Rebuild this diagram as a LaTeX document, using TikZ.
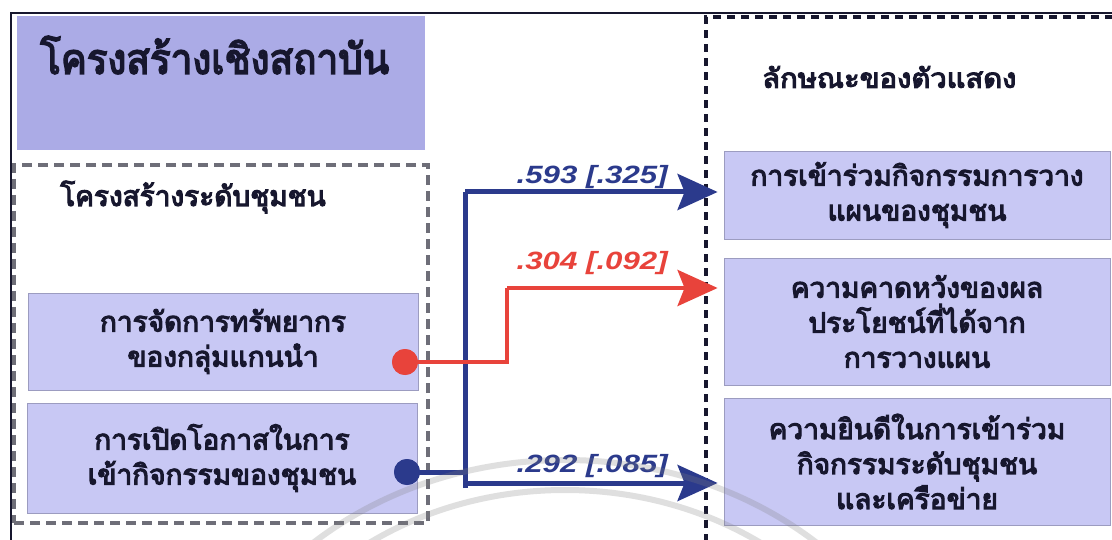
\documentclass[tikz,border=0pt]{standalone}
\usepackage{fontspec}
\usepackage{graphicx}
\newfontfamily\thai[Script=Thai, AutoFakeBold=4]{Loma}
\newfontfamily\numf{Liberation Sans}
\usetikzlibrary{arrows.meta,calc}
\definecolor{titlefill}{HTML}{ABABE6}
\definecolor{boxfill}{HTML}{C8C8F4}
\definecolor{boxline}{HTML}{9C9CC0}
\definecolor{ink}{HTML}{17172E}
\definecolor{navy}{HTML}{2B3A8C}
\definecolor{redc}{HTML}{E8433B}
\definecolor{dashgray}{HTML}{6E6E78}
\newcommand{\hs}[2]{\scalebox{#1}[1]{#2}}
\tikzset{
  pbox/.style={draw=boxline, line width=0.8pt, fill=boxfill, inner sep=0pt, text=ink,
    align=center, font=\thai\bfseries\fontsize{28}{35}\selectfont},
  lbl/.style={text=ink, inner sep=0pt},
  grayframe/.style={draw=dashgray, line width=4pt, dash pattern=on 10pt off 6pt, inner sep=0pt},
  blackframe/.style={draw=ink, line width=4pt, dash pattern=on 8pt off 6pt},
  blueln/.style={draw=navy, line width=5pt},
  redln/.style={draw=redc, line width=4.5pt},
  bluearr/.style={blueln, -{Stealth[length=40pt,width=36pt,inset=7pt]}},
  redarr/.style={redln, -{Stealth[length=40pt,width=36pt,inset=7pt]}},
  coef/.style={inner sep=0pt, anchor=east, font=\numf\bfseries\itshape\fontsize{25}{28}\selectfont},
  dotst/.style={circle, inner sep=0pt, minimum size=26pt},
  wm/.style={draw=gray, line width=6pt, opacity=0.25}
}
\begin{document}
\begin{tikzpicture}[x=1pt,y=-1pt]
\useasboundingbox (0,0) rectangle (1112,540);
\clip (0,0) rectangle (1112,540);
\fill[white] (0,0) rectangle (1112,540);
% outer solid frame
\draw[ink, line width=1.8pt] (11,560) -- (11,13) -- (1130,13);
% title box
\node[fill=titlefill, inner sep=0pt, minimum width=408pt, minimum height=134pt] (inst) at (221,83) {};
\node[lbl, anchor=west, font=\thai\bfseries\fontsize{42}{50}\selectfont] (instlbl) at (40,55) {\hs{0.92}{โครงสร้างเชิงสถาบัน}};
% community frame
\node[grayframe, minimum width=414pt, minimum height=358pt] (comm) at (221,344) {};
\node[lbl, anchor=west, font=\thai\bfseries\fontsize{28}{32}\selectfont] (commlbl) at (60,197) {\hs{1.0}{โครงสร้างระดับชุมชน}};
% actor frame
\draw[blackframe] (706,570) -- (706,17) -- (1130,17);
\node[lbl, anchor=west, font=\thai\bfseries\fontsize{27}{30}\selectfont] (actlbl) at (762,77) {\hs{1.08}{ลักษณะของตัวแสดง}};
% left boxes
\node[pbox, minimum width=390pt, minimum height=97pt] (lb1) at (223,341.5) {\hs{1.0}{การจัดการทรัพยากร}\\\hs{1.0}{ของกลุ่มแกนนำ}};
\node[pbox, minimum width=390pt, minimum height=110pt] (lb2) at (222,458) {\hs{1.0}{การเปิดโอกาสในการ}\\\hs{1.0}{เข้ากิจกรรมของชุมชน}};
% right boxes
\node[pbox, minimum width=386pt, minimum height=88pt] (rb1) at (917,195) {\hs{1.0}{การเข้าร่วมกิจกรรมการวาง}\\\hs{1.0}{แผนของชุมชน}};
\node[pbox, minimum width=386pt, minimum height=127pt] (rb2) at (917,321.5) {\hs{1.0}{ความคาดหวังของผล}\\\hs{1.0}{ประโยชน์ที่ได้จาก}\\\hs{1.0}{การวางแผน}};
\node[pbox, minimum width=386pt, minimum height=127pt] (rb3) at (917,461.5) {\hs{1.0}{ความยินดีในการเข้าร่วม}\\\hs{1.0}{กิจกรรมระดับชุมชน}\\\hs{1.0}{และเครือข่าย}};
% dots and junctions
\node[dotst, fill=redc] (rd) at (405,362) {};
\node[dotst, fill=navy] (bd) at (407,472) {};
\coordinate (btop) at (465,192);
\coordinate (bbot) at (465,488);
\coordinate (bjoin) at (465,472);
\coordinate (blow) at (465,483);
\coordinate (rbend) at (507,362);
\coordinate (rup) at (507,288);
% connectors
\draw[blueln] (bd.center) -- (bjoin);
\draw[blueln] (bbot) -- (btop);
\draw[bluearr, shorten >=6pt] (btop) -- (btop -| rb1.west);
\draw[bluearr, shorten >=6pt] (blow) -- (blow -| rb3.west);
\draw[redln] (rd.center) -- (rbend) -- (rup);
\draw[redarr, shorten >=6pt] (rup) -- (rup -| rb2.west);
\node[dotst, fill=redc] at (rd) {};
\node[dotst, fill=navy] at (bd) {};
% coefficients
\node[coef, text=navy] (c1) at (668,177) {\hs{1.25}{.593 [.325]}};
\node[coef, text=redc] (c2) at (668,263) {\hs{1.25}{.304 [.092]}};
\node[coef, text=navy] (c3) at (668,466) {\hs{1.25}{.292 [.085]}};
% watermark arcs
\draw[wm] (565,790) ellipse [x radius=380, y radius=330];
\draw[wm] (565,790) ellipse [x radius=345, y radius=300];
\end{tikzpicture}
\end{document}
